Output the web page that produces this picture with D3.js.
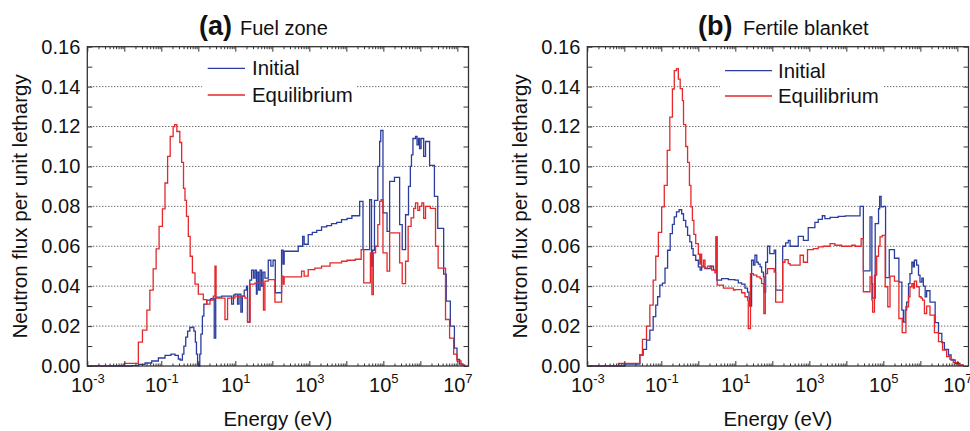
<!DOCTYPE html>
<html><head><meta charset="utf-8">
<script src="https://cdn.jsdelivr.net/npm/d3@7"></script>
<style>body{margin:0;background:#fff}svg{display:block}</style>
</head><body><svg id="c" width="970" height="431"></svg>
<script>
// ---------- DATA (energy given as log10(E / eV), flux per unit lethargy) ----------
const fuelInitLogE = [-3.00,-1.80,-1.62,-1.44,-1.26,-1.08,-0.90,-0.74,-0.63,-0.54,-0.49,-0.43,-0.39,-0.34,-0.29,-0.23,-0.17,-0.12,-0.08,-0.05,-0.02,0.01,0.04,0.07,0.11,0.15,0.23,0.34,0.41,0.43,0.47,0.63,0.77,0.90,0.95,0.99,1.06,1.10,1.15,1.19,1.24,1.30,1.33,1.39,1.44,1.49,1.53,1.57,1.59,1.63,1.67,1.71,1.75,1.80,1.89,1.96,2.02,2.08,2.25,2.29,2.32,2.70,2.82,2.86,2.97,3.08,3.20,3.33,3.47,3.60,3.74,3.87,4.02,4.15,4.36,4.45,4.63,4.68,4.71,4.76,4.85,4.90,4.93,4.99,5.10,5.17,5.30,5.44,5.51,5.60,5.68,5.73,5.76,5.80,5.87,5.91,5.95,5.98,6.02,6.09,6.14,6.25,6.38,6.47,6.63,6.70,6.81,6.92,6.99,7.06,7.15];
const fuelInitFlux = [0,0.0002,0.0008,0.0015,0.0025,0.004,0.0053,0.006,0.0053,0.0035,0.003,0.006,0.010,0.0145,0.0175,0.0193,0.0195,0.0175,0.012,0.006,0.001,0.0,0.006,0.016,0.025,0.031,0.033,0.0337,0.034,0.014,0.0345,0.035,0.035,0.031,0.0355,0.036,0.031,0.036,0.027,0.035,0.038,0.040,0.022,0.043,0.048,0.044,0.048,0.036,0.047,0.038,0.048,0.040,0.047,0.044,0.053,0.050,0.053,0.0367,0.058,0.051,0.0575,0.060,0.065,0.061,0.0658,0.067,0.068,0.0697,0.0703,0.0713,0.072,0.0733,0.074,0.0753,0.0825,0.0583,0.0833,0.050,0.058,0.083,0.100,0.1125,0.118,0.0767,0.0675,0.0925,0.0945,0.0708,0.0583,0.0758,0.090,0.100,0.1058,0.114,0.115,0.1108,0.114,0.109,0.114,0.105,0.1125,0.1005,0.085,0.069,0.046,0.0325,0.020,0.009,0.0033,0.001,0];

const fuelEqLogE = [-3.00,-2.00,-1.62,-1.51,-1.39,-1.31,-1.22,-1.14,-1.06,-0.97,-0.90,-0.83,-0.76,-0.68,-0.64,-0.58,-0.50,-0.45,-0.40,-0.36,-0.32,-0.27,-0.22,-0.16,-0.09,0.00,0.135,0.225,0.315,0.405,0.45,0.48,0.72,0.79,0.99,1.08,1.17,1.26,1.33,1.40,1.53,1.76,1.80,1.89,2.07,2.25,2.29,2.32,2.79,2.86,2.97,3.15,3.33,3.56,3.87,4.02,4.24,4.40,4.47,4.65,4.69,4.73,4.79,4.85,4.90,4.94,4.99,5.10,5.17,5.44,5.51,5.60,5.67,5.75,5.82,5.87,5.93,5.98,6.04,6.09,6.14,6.27,6.41,6.48,6.68,6.79,6.90,6.99,7.10,7.20];
const fuelEqFlux = [0.0002,0.0013,0.012,0.018,0.028,0.038,0.0487,0.0587,0.070,0.0787,0.0917,0.105,0.115,0.120,0.121,0.1175,0.112,0.102,0.089,0.083,0.075,0.065,0.055,0.0467,0.041,0.036,0.0333,0.031,0.033,0.035,0.050,0.034,0.0233,0.034,0.035,0.0345,0.035,0.034,0.022,0.041,0.0415,0.028,0.0425,0.0433,0.032,0.045,0.041,0.0447,0.0475,0.045,0.0483,0.049,0.050,0.0517,0.0525,0.053,0.0535,0.0583,0.0417,0.0567,0.0358,0.0567,0.060,0.0708,0.0825,0.0833,0.0567,0.0475,0.0667,0.0517,0.0413,0.0525,0.070,0.0742,0.079,0.0817,0.078,0.080,0.0817,0.074,0.080,0.079,0.060,0.049,0.0233,0.014,0.006,0.0025,0.0005,0];

const blanketInitLogE = [-3.00,-1.98,-1.58,-1.49,-1.40,-1.31,-1.22,-1.15,-1.10,-1.04,-0.97,-0.90,-0.83,-0.76,-0.70,-0.65,-0.59,-0.52,-0.45,-0.40,-0.34,-0.29,-0.23,-0.18,-0.14,-0.07,0.00,0.05,0.09,0.18,0.32,0.41,0.48,0.50,0.63,0.81,0.99,1.08,1.17,1.26,1.33,1.37,1.39,1.44,1.49,1.53,1.58,1.62,1.67,1.71,1.76,1.78,1.82,1.87,1.93,2.05,2.09,2.28,2.36,2.43,2.48,2.70,2.84,2.97,3.15,3.24,3.35,3.42,3.56,3.78,3.97,4.37,4.46,4.64,4.69,4.71,4.78,4.87,4.90,4.94,5.00,5.06,5.16,5.30,5.42,5.50,5.54,5.59,5.63,5.68,5.72,5.77,5.81,5.84,5.90,5.95,5.99,6.04,6.08,6.13,6.17,6.26,6.40,6.49,6.58,6.65,6.76,6.83,6.94,7.07,7.16];
const blanketInitFlux = [0,0.001,0.0055,0.0083,0.013,0.018,0.0247,0.0305,0.0347,0.0405,0.0415,0.049,0.058,0.0663,0.071,0.0747,0.0772,0.0783,0.0763,0.073,0.0697,0.0655,0.0622,0.0588,0.0555,0.053,0.0497,0.048,0.0497,0.0488,0.050,0.048,0.0647,0.043,0.0438,0.0433,0.043,0.0417,0.041,0.039,0.037,0.034,0.030,0.053,0.0505,0.0555,0.052,0.051,0.0497,0.047,0.0447,0.037,0.052,0.060,0.0563,0.058,0.038,0.060,0.0617,0.063,0.060,0.065,0.063,0.0693,0.072,0.0735,0.0753,0.0738,0.0745,0.075,0.0752,0.080,0.0477,0.0747,0.0413,0.034,0.0713,0.0788,0.085,0.0797,0.080,0.0443,0.0583,0.054,0.042,0.028,0.022,0.028,0.032,0.0413,0.0463,0.052,0.0497,0.053,0.0505,0.0455,0.042,0.044,0.040,0.0347,0.0377,0.032,0.0217,0.0163,0.0117,0.0083,0.0055,0.003,0.0013,0.0003,0];

const blanketEqLogE = [-3.00,-2.16,-1.58,-1.51,-1.40,-1.31,-1.22,-1.15,-1.08,-0.99,-0.92,-0.84,-0.77,-0.70,-0.65,-0.59,-0.54,-0.49,-0.43,-0.40,-0.34,-0.29,-0.24,-0.20,-0.16,-0.12,-0.07,0.00,0.04,0.06,0.09,0.14,0.18,0.25,0.36,0.45,0.48,0.51,0.68,0.95,0.99,1.17,1.26,1.33,1.35,1.41,1.49,1.58,1.67,1.71,1.77,1.81,1.87,2.05,2.09,2.28,2.34,2.43,2.48,2.75,2.84,2.95,3.11,3.24,3.38,3.56,3.69,3.87,3.97,4.15,4.24,4.40,4.46,4.64,4.69,4.71,4.76,4.82,4.87,4.91,4.97,5.05,5.12,5.18,5.30,5.42,5.51,5.61,5.68,5.72,5.77,5.81,5.84,5.90,5.97,6.02,6.06,6.11,6.17,6.26,6.38,6.49,6.60,6.71,6.80,6.89,7.03,7.16];
const blanketEqFlux = [0.0002,0.0013,0.0055,0.0133,0.020,0.0305,0.043,0.055,0.067,0.0797,0.0905,0.108,0.1247,0.1388,0.148,0.149,0.1438,0.139,0.133,0.121,0.110,0.102,0.0905,0.0797,0.073,0.066,0.0613,0.056,0.051,0.056,0.050,0.053,0.049,0.050,0.048,0.0467,0.0647,0.0405,0.039,0.038,0.0383,0.0367,0.0347,0.033,0.0188,0.0463,0.0455,0.0447,0.0438,0.0413,0.0263,0.0463,0.0488,0.047,0.032,0.052,0.0533,0.0513,0.0505,0.0555,0.052,0.0583,0.0588,0.0597,0.060,0.0613,0.0605,0.060,0.060,0.0605,0.060,0.0638,0.0372,0.0447,0.033,0.027,0.0455,0.055,0.060,0.0647,0.0655,0.0397,0.0297,0.045,0.0425,0.0238,0.0167,0.0297,0.0347,0.0397,0.0413,0.039,0.0425,0.0397,0.0347,0.034,0.033,0.0263,0.030,0.0255,0.0167,0.0122,0.008,0.0047,0.0033,0.0017,0.0005,0];

const panelLabels = ["(a)", "(b)"];
const panelNames = ["Fuel zone", "Fertile blanket"];
const seriesNames = ["Initial", "Equilibrium"];
const yTickValues = [0,0.01,0.02,0.03,0.04,0.05,0.06,0.07,0.08,0.09,0.10,0.11,0.12,0.13,0.14,0.15,0.16];
const yLabelValues = [0,0.02,0.04,0.06,0.08,0.10,0.12,0.14,0.16];
const gridValues = [0.02,0.04,0.06,0.08,0.10,0.12,0.14];
const xDecadeExps = [-3,-2,-1,0,1,2,3,4,5,6,7];
const xLabelExps = [-3,-1,1,3,5,7];
const xTitle = "Energy (eV)";
const yTitle = "Neutron flux per unit lethargy";

// ---------- LAYOUT ----------
const FONT = "'Liberation Sans', Arial, Helvetica, sans-serif";
const COLORS = ["#2b3d9f", "#e4282b"];
const plotTop = 46.7, plotBottom = 366, plotW = 381.2, plotH = plotBottom - plotTop;
const panels = [
  {left: 87.3, titleX: [199, 240], leg: {x1: 207.7, x2: 245, tx: 252, ys: [68.3, 95], box: [202, 56, 357, 106]},
   series: [[fuelInitLogE, fuelInitFlux], [fuelEqLogE, fuelEqFlux]]},
  {left: 587.3, titleX: [698, 743], leg: {x1: 725, x2: 772, tx: 778, ys: [70.7, 96], box: [720, 56, 883, 106]},
   series: [[blanketInitLogE, blanketInitFlux], [blanketEqLogE, blanketEqFlux]]}
];

const svg = d3.select("#c");
const x = d3.scaleLog().domain([1e-3, 2e7]).range([0, plotW]);
const y = d3.scaleLinear().domain([0, 0.16]).range([plotH, 0]);

const decadeVals = xDecadeExps.map(e => Math.pow(10, e));
const minorVals = [];
xDecadeExps.slice(0, -1).forEach(e => { for (let m = 2; m <= 9; m++) minorVals.push(m * Math.pow(10, e)); });

panels.forEach((p, pi) => {
  const g = svg.append("g").attr("transform", `translate(${p.left},${plotTop})`);

  // grid
  g.selectAll("line.grid").data(gridValues).join("line").attr("class", "grid")
    .attr("x1", 0).attr("x2", plotW).attr("y1", d => y(d)).attr("y2", d => y(d))
    .attr("stroke", "#333").attr("stroke-width", 1).attr("stroke-dasharray", "1,2");

  // legend backdrop
  const b = p.leg.box;
  svg.append("rect").attr("x", b[0]).attr("y", b[1]).attr("width", b[2] - b[0]).attr("height", b[3] - b[1]).attr("fill", "#fff");

  // curves
  const line = d3.line().x(d => x(Math.pow(10, d[0]))).y(d => y(d[1])).curve(d3.curveStepAfter);
  p.series.forEach((s, si) => {
    const pts = s[0].map((e, i) => [e, s[1][i]]);
    g.append("path").datum(pts).attr("d", line).attr("fill", "none")
      .attr("stroke", COLORS[si]).attr("stroke-width", 1.3).attr("stroke-linejoin", "miter");
  });

  // axes
  const bottom = g.append("g").attr("transform", `translate(0,${plotH})`)
    .call(d3.axisBottom(x).tickValues(decadeVals).tickSize(-5).tickSizeOuter(0).tickFormat(() => ""));
  const top = g.append("g").call(d3.axisTop(x).tickValues(decadeVals).tickSize(-5).tickSizeOuter(0).tickFormat(() => ""));
  const bottomMinor = g.append("g").attr("transform", `translate(0,${plotH})`)
    .call(d3.axisBottom(x).tickValues(minorVals).tickSize(-2.5).tickSizeOuter(0).tickFormat(() => ""));
  const topMinor = g.append("g").call(d3.axisTop(x).tickValues(minorVals).tickSize(-2.5).tickSizeOuter(0).tickFormat(() => ""));
  const left = g.append("g").call(d3.axisLeft(y).tickValues(yTickValues).tickSize(-5).tickSizeOuter(0).tickPadding(7)
    .tickFormat(d => yLabelValues.some(v => Math.abs(v - d) < 1e-9) ? d3.format(".2f")(d) : ""));
  const right = g.append("g").attr("transform", `translate(${plotW},0)`)
    .call(d3.axisRight(y).tickValues(yTickValues).tickSize(-5).tickSizeOuter(0).tickFormat(() => ""));
  [bottom, top, bottomMinor, topMinor, left, right].forEach(a => {
    a.select(".domain").remove();
    a.selectAll(".tick line").attr("stroke", "#333").attr("stroke-width", 1);
    a.attr("font-family", FONT).attr("font-size", 20).attr("fill", "#111");
  });
  left.selectAll(".tick text").attr("fill", "#111");

  bottom.selectAll(".tick text").each(function(d) {
    const e = Math.round(Math.log10(d));
    const t = d3.select(this).text(null).attr("y", 26).attr("dy", 0).attr("fill", "#111");
    if (xLabelExps.includes(e)) {
      t.append("tspan").text("10");
      t.append("tspan").attr("dy", -9).attr("font-size", 13).text(String(e));
    }
  });

  // frame
  g.append("rect").attr("x", 0).attr("y", 0).attr("width", plotW).attr("height", plotH)
    .attr("fill", "none").attr("stroke", "#333").attr("stroke-width", 1.3);

  // axis titles
  svg.append("text").attr("x", p.left + plotW / 2).attr("y", 426).attr("text-anchor", "middle")
    .attr("font-family", FONT).attr("font-size", 20.4).attr("fill", "#111").text(xTitle);
  svg.append("text").attr("transform", `translate(${p.left - 60},${plotTop + plotH / 2}) rotate(-90)`)
    .attr("text-anchor", "middle").attr("font-family", FONT).attr("font-size", 20.6).attr("fill", "#111").text(yTitle);

  // panel title
  const tt = svg.append("text").attr("y", 35).attr("font-family", FONT).attr("fill", "#111");
  tt.append("tspan").attr("x", p.titleX[0]).attr("font-weight", "bold").attr("font-size", 27).text(panelLabels[pi]);
  tt.append("tspan").attr("x", p.titleX[1]).attr("font-size", 20).text(panelNames[pi]);

  // legend
  seriesNames.forEach((n, si) => {
    const ly = p.leg.ys[si];
    svg.append("line").attr("x1", p.leg.x1).attr("x2", p.leg.x2).attr("y1", ly).attr("y2", ly)
      .attr("stroke", COLORS[si]).attr("stroke-width", 1.3);
    svg.append("text").attr("x", p.leg.tx).attr("y", ly + 7).attr("font-family", FONT)
      .attr("font-size", 20.4).attr("fill", "#111").text(n);
  });
});
</script></body></html>
